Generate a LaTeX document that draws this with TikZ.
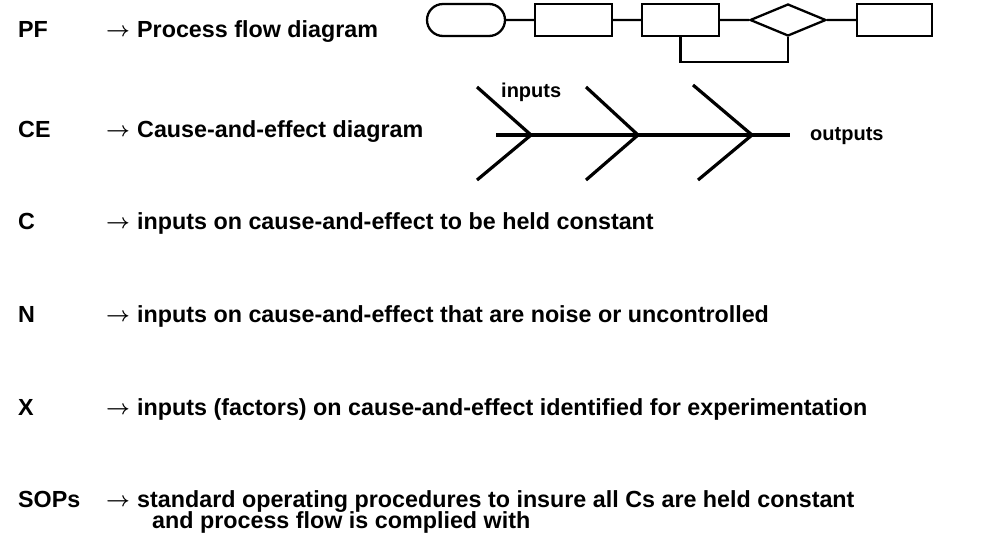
\documentclass[tikz,border=0pt]{standalone}
\usepackage{fontspec}
\setmainfont{Liberation Sans}
\usetikzlibrary{shapes.geometric,shapes.misc}

\tikzset{
  key/.style={anchor=base west, inner sep=0pt, font=\fontsize{23.3}{27}\selectfont\bfseries},
  arr/.style={anchor=base west, inner sep=0pt, font=\fontsize{21}{25}\selectfont\boldmath},
  flow/.style={draw, line width=2.3pt, minimum height=32pt, inner sep=0pt},
  bone/.style={line width=3.2pt},
  tag/.style={anchor=base west, inner sep=0pt, font=\fontsize{20}{24}\selectfont\bfseries}
}

\begin{document}
\begin{tikzpicture}[x=1pt,y=-1pt]
    \useasboundingbox (0,0) rectangle (984,539);

    % process flow
    \node[flow, rounded rectangle, minimum width=78pt] (start) at (466,20) {};
    \node[flow, rectangle, minimum width=77pt] (boxa) at (573.5,20) {};
    \node[flow, rectangle, minimum width=77pt] (boxb) at (680.5,20) {};
    \node[flow, diamond, minimum width=76pt] (decide) at (788,20) {};
    \node[flow, rectangle, minimum width=75pt] (boxc) at (894.5,20) {};
    \draw[line width=2.3pt] (start) -- (boxa) -- (boxb) -- (decide) -- (boxc);
    \draw[line width=2.3pt] (boxb.south) -- ++(0,25) -| (decide.south);

    % fishbone
    \draw[bone] (496,135) -- (790,135);
    \foreach \a/\b/\c/\d in {477/531/87/477, 586/638/87/586, 693/752/85/698}
      \draw[bone] (\a,\c) -- (\b,135) -- (\d,180);
    \node[tag] (inputs) at (501,97) {inputs};
    \node[tag] (outputs) at (810,140) {outputs};

    % legend
    \node[key] (pf) at (18,37) {PF};
    \node[arr] (pfarr) at (106,36) {$\rightarrow$};
    \node[key] (pftext) at (137,37) {Process flow diagram};

    \node[key] (ce) at (18,137) {CE};
    \node[arr] (cearr) at (106,136) {$\rightarrow$};
    \node[key] (cetext) at (137,137) {Cause-and-effect diagram};

    \node[key] (c) at (18,229) {C};
    \node[arr] (carr) at (106,228) {$\rightarrow$};
    \node[key] (ctext) at (137,229) {inputs on cause-and-effect to be held constant};

    \node[key] (n) at (18,322) {N};
    \node[arr] (narr) at (106,321) {$\rightarrow$};
    \node[key] (ntext) at (137,322) {inputs on cause-and-effect that are noise or uncontrolled};

    \node[key] (x) at (18,415) {X};
    \node[arr] (xarr) at (106,414) {$\rightarrow$};
    \node[key] (xtext) at (137,415) {inputs (factors) on cause-and-effect identified for experimentation};

    \node[key] (sop) at (18,507) {SOPs};
    \node[arr] (soparr) at (106,506) {$\rightarrow$};
    \node[key] (soptext) at (137,507) {standard operating procedures to insure all Cs are held constant};
    \node[key] (soptextb) at (152,528) {and process flow is complied with};
\end{tikzpicture}
\end{document}
